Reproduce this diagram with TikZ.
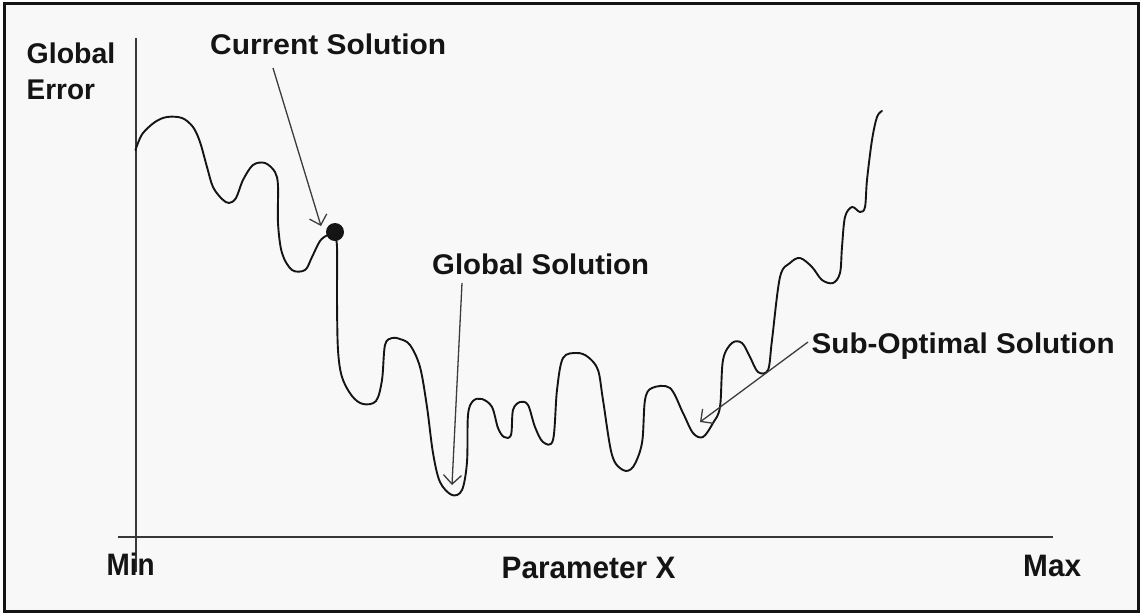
\documentclass[tikz,border=0pt]{standalone}
\usepackage{fontspec}
\setmainfont{Liberation Sans}
\usepackage{graphicx}
\usetikzlibrary{arrows.meta}
\definecolor{paper}{RGB}{248,248,248}
\definecolor{ink}{RGB}{20,20,20}
\definecolor{arrowgray}{RGB}{60,60,60}
\newcommand{\wtext}[2]{\scalebox{#1}[1]{#2}}
\tikzset{
  toplbl/.style={font=\fontsize{28.5}{34}\selectfont\bfseries, inner sep=0pt, anchor=base west, text=ink},
  axlbl/.style={font=\fontsize{31}{36}\selectfont\bfseries, inner sep=0pt, anchor=base west, text=ink},
  arr/.style={draw=arrowgray, line width=1.3pt, -{Straight Barb[length=9pt,width=18pt]}},
  axisline/.style={draw=ink!85, line width=2pt},
  curve/.style={draw=ink, line width=1.9pt, line join=round, line cap=round},
  frame/.style={draw=ink, line width=2.6pt, fill=paper}
}
\begin{document}
\begin{tikzpicture}[x=1pt,y=-1pt]
\useasboundingbox (0,0) rectangle (1141,614);
\fill[white] (0,0) rectangle (1141,614);
\draw[frame] (4.5,3.5) rectangle (1138.5,611.5);

% axes
\coordinate (yTop) at (135.5,38);
\coordinate (yBot) at (135.5,572);
\coordinate (xL) at (118,536.5);
\coordinate (xR) at (1053,536.5);
\draw[axisline] (yTop) -- (yBot);
\draw[axisline] (xL) -- (xR);

% labels
\node[toplbl] (ge1) at (26.5,63.5) {Global};
\node[toplbl] (ge2) at (26.5,99.5) {\wtext{0.98}{Error}};
\node[toplbl] (cs) at (210,54.5) {\wtext{1.05}{Current Solution}};
\node[toplbl] (gs) at (432,274) {\wtext{1.03}{Global Solution}};
\node[toplbl] (so) at (811.5,353) {\wtext{1.04}{Sub-Optimal Solution}};
\node[axlbl] (mn) at (106.5,575.5) {\wtext{0.9}{Min}};
\node[axlbl] (px) at (501.5,578.5) {\wtext{0.96}{Parameter X}};
\node[axlbl] (mx) at (1023,576.5) {\wtext{0.96}{Max}};

% error curve
\draw[curve] plot[smooth, tension=0.55] coordinates {
(135.5,150) (138,143) (143,133) (155,122) (167,117) (182,118) (193,127) (200,142)
(207,167) (213,187) (222,199) (229,203) (236,198) (243,180) (253,165) (265,163)
(275,172) (278,186) (278,223) (282,253) (292,270) (305,270) (312,257) (320,241)
(328,235) (334,236) (337,247) (337,300) (338,350) (342,377) (352,396) (363,404)
(376,401) (382,380) (385,345) (392,338) (400,339) (410,345) (420,367) (427,407)
(433,453) (440,482) (452,495) (462,490) (467,462) (468,415) (473,401) (482,399)
(492,407) (498,428) (504,437) (511,435) (513,410) (520,402) (528,405) (535,427)
(543,442) (553,440) (557,390) (563,358) (577,353) (588,357) (598,370) (603,400)
(612,455) (623,470) (633,467) (642,443) (645,400) (652,388) (670,388) (683,413)
(693,433) (703,437) (713,423) (720,407) (723,360) (732,343) (742,343) (750,357)
(758,372) (768,370) (772,340) (780,277) (790,263) (800,258) (812,267) (822,280)
(833,283) (840,273) (842,247) (845,217) (852,207) (860,212) (865,207) (867,180)
(872,140) (877,117) (882,111)};

% current solution marker
\node[circle, fill=ink, inner sep=0pt, minimum size=18pt] (cur) at (335,232) {};

% arrows
\coordinate (csA) at (273,68);
\coordinate (csT) at (321,226);
\coordinate (gsA) at (462,283);
\coordinate (gsT) at (452,485);
\coordinate (soA) at (808,342);
\coordinate (soT) at (700,422);
\draw[arr] (csA) -- (csT);
\draw[arr] (gsA) -- (gsT);
\draw[arr] (soA) -- (soT);
\end{tikzpicture}
\end{document}
